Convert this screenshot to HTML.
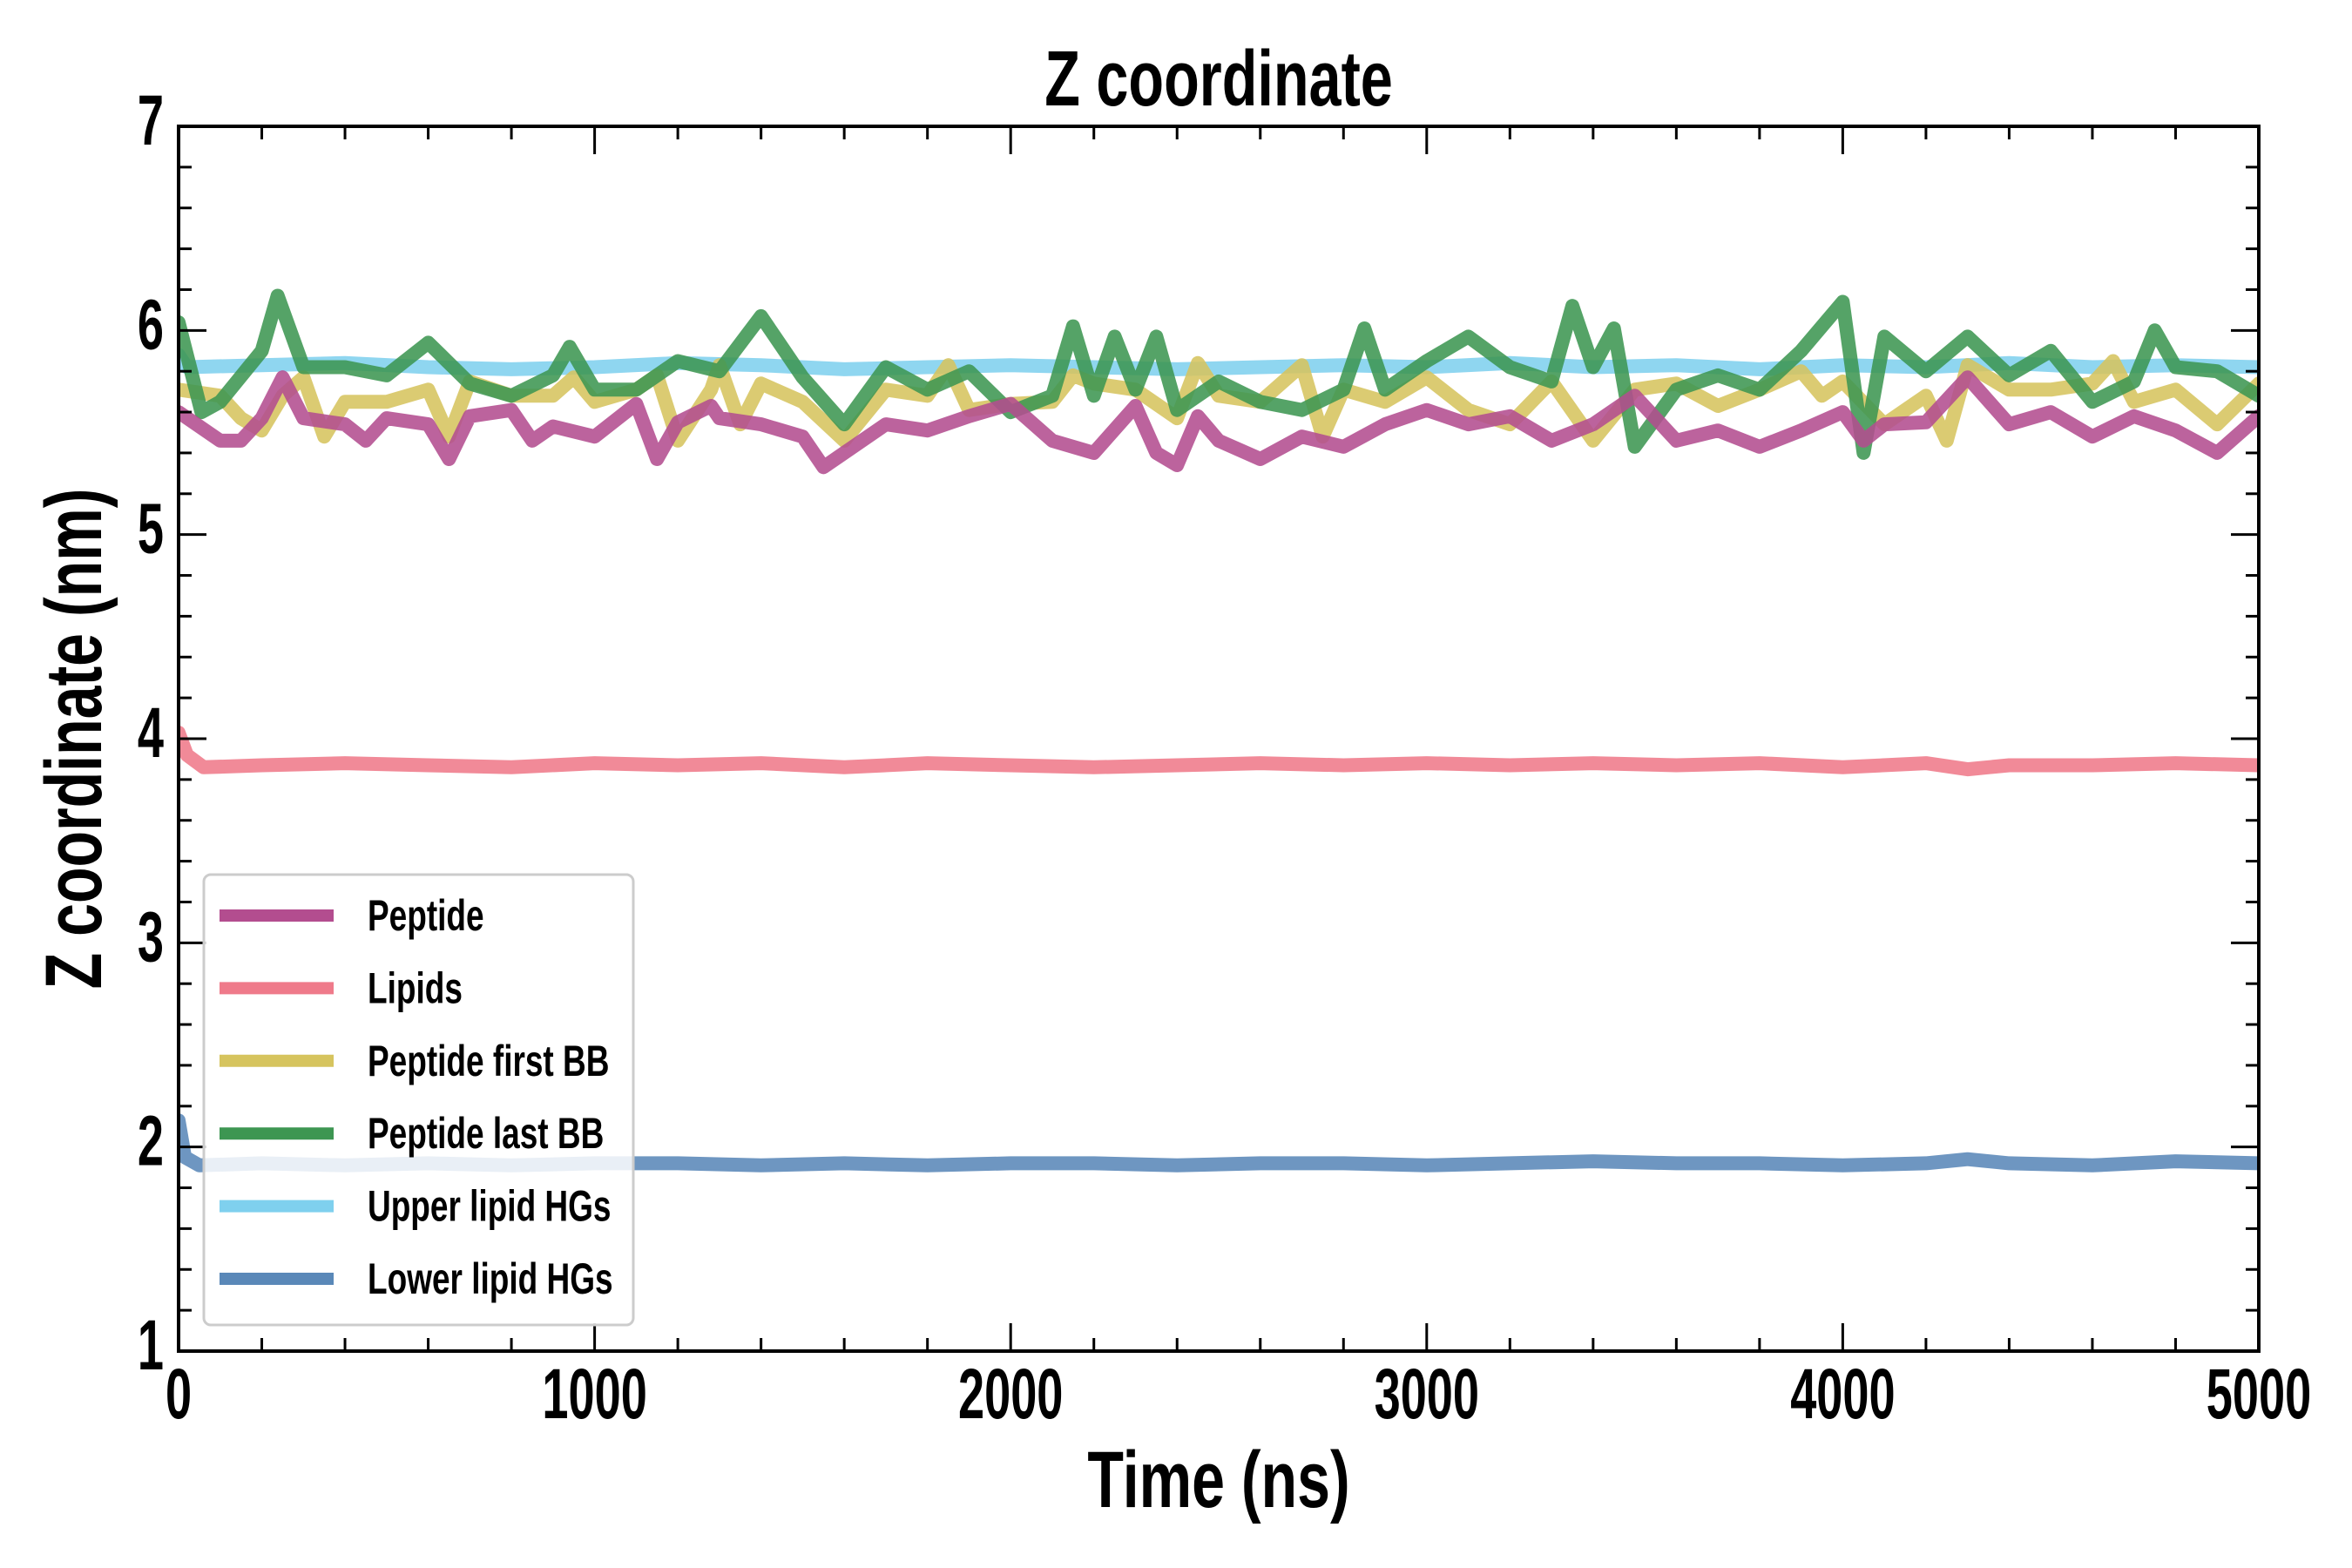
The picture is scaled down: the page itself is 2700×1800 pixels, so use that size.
<!DOCTYPE html>
<html><head><meta charset="utf-8"><style>
html,body{margin:0;padding:0;background:#fff;}
svg{display:block;}
text{font-family:"Liberation Sans Narrow","Liberation Sans",sans-serif;font-weight:bold;fill:#000;}
</style></head><body>
<svg id="chart" width="2700" height="1800" viewBox="0 0 2700 1800" xmlns="http://www.w3.org/2000/svg">
<rect width="2700" height="1800" fill="#fff"/>
<g id="series"></g>
<g id="axes"></g>
<g id="legend"></g>
</svg>
<script>
const xTicks = [0,1000,2000,3000,4000,5000];
const yTicks = [1,2,3,4,5,6,7];
const seriesNames = ["Peptide","Lipids","Peptide first BB","Peptide last BB","Upper lipid HGs","Lower lipid HGs"];
const seriesColors = ["#b34d8f","#ef7a8a","#d6c45e","#3d9652","#7fd0ee","#5a88b8"];

const peptideT = [0,100,150,200,250,300,400,450,500,600,650,700,800,850,900,1000,1100,1150,1200,1280,1300,1400,1500,1550,1600,1700,1800,1900,2000,2100,2200,2300,2350,2400,2450,2500,2600,2700,2800,2900,3000,3100,3200,3300,3400,3500,3600,3700,3800,3900,4000,4050,4100,4200,4300,4400,4500,4600,4700,4800,4900,5000];
const peptideV = [5.60,5.46,5.46,5.57,5.77,5.57,5.54,5.46,5.57,5.54,5.37,5.58,5.61,5.46,5.53,5.48,5.64,5.37,5.55,5.63,5.57,5.54,5.48,5.33,5.40,5.54,5.51,5.58,5.64,5.46,5.40,5.63,5.40,5.34,5.58,5.46,5.37,5.48,5.43,5.54,5.61,5.54,5.58,5.46,5.54,5.68,5.46,5.51,5.43,5.51,5.60,5.46,5.54,5.55,5.77,5.54,5.60,5.48,5.58,5.51,5.40,5.58];

const firstBBT = [0,100,150,200,250,300,350,400,500,600,650,700,800,900,950,1000,1100,1150,1200,1280,1300,1350,1400,1500,1600,1700,1800,1850,1900,2000,2100,2150,2200,2300,2400,2450,2500,2600,2700,2750,2800,2900,3000,3100,3200,3300,3400,3500,3600,3700,3800,3900,3950,4000,4100,4200,4250,4300,4400,4500,4600,4650,4700,4800,4900,5000];
const firstBBV = [5.71,5.68,5.57,5.51,5.68,5.77,5.48,5.65,5.65,5.71,5.48,5.75,5.68,5.68,5.77,5.65,5.71,5.78,5.46,5.71,5.83,5.54,5.74,5.65,5.46,5.71,5.68,5.83,5.61,5.64,5.65,5.78,5.74,5.71,5.57,5.84,5.68,5.65,5.83,5.48,5.71,5.65,5.77,5.61,5.54,5.75,5.46,5.71,5.74,5.63,5.71,5.80,5.68,5.75,5.54,5.68,5.46,5.83,5.71,5.71,5.74,5.85,5.65,5.71,5.54,5.74];

const lastBBT = [0,55,100,200,238,300,400,500,600,700,800,900,940,1000,1100,1200,1300,1400,1500,1600,1700,1800,1900,2000,2100,2150,2200,2250,2300,2350,2400,2500,2600,2700,2800,2850,2900,3000,3100,3200,3300,3350,3400,3450,3500,3600,3700,3800,3900,4000,4050,4100,4200,4300,4400,4500,4600,4700,4750,4800,4900,5000];
const lastBBV = [6.04,5.60,5.65,5.90,6.17,5.82,5.82,5.78,5.94,5.74,5.68,5.78,5.92,5.71,5.71,5.85,5.80,6.07,5.77,5.54,5.82,5.71,5.80,5.60,5.68,6.02,5.68,5.97,5.71,5.97,5.61,5.75,5.65,5.61,5.71,6.01,5.71,5.85,5.97,5.82,5.75,6.12,5.82,6.01,5.43,5.71,5.78,5.71,5.90,6.14,5.40,5.97,5.80,5.97,5.78,5.90,5.65,5.75,6.00,5.82,5.80,5.68];

const upperT = [0,20,200,400,600,800,1000,1200,1400,1600,1800,2000,2200,2400,2600,2800,3000,3200,3400,3600,3800,4000,4200,4400,4600,4800,5000];
const upperV = [5.88,5.82,5.83,5.84,5.82,5.81,5.82,5.84,5.83,5.81,5.82,5.83,5.82,5.81,5.82,5.83,5.82,5.84,5.82,5.83,5.81,5.83,5.82,5.84,5.82,5.83,5.82];

const lipidsT = [0,20,60,200,400,600,800,1000,1200,1400,1600,1800,2000,2200,2400,2600,2800,3000,3200,3400,3600,3800,4000,4200,4300,4400,4600,4800,5000];
const lipidsV = [4.03,3.92,3.86,3.87,3.88,3.87,3.86,3.88,3.87,3.88,3.86,3.88,3.87,3.86,3.87,3.88,3.87,3.88,3.87,3.88,3.87,3.88,3.86,3.88,3.85,3.87,3.87,3.88,3.87];

const lowerT = [0,15,50,200,400,600,800,1000,1200,1400,1600,1800,2000,2200,2400,2600,2800,3000,3200,3400,3600,3800,4000,4200,4300,4400,4600,4800,5000];
const lowerV = [2.13,1.95,1.91,1.92,1.91,1.92,1.91,1.92,1.92,1.91,1.92,1.91,1.92,1.92,1.91,1.92,1.92,1.91,1.92,1.93,1.92,1.92,1.91,1.92,1.94,1.92,1.91,1.93,1.92];

const L=205,R=2593,T=145,B=1551;
const xMin=0,xMax=5000,yMin=1,yMax=7;
function sx(v){return L+(v-xMin)/(xMax-xMin)*(R-L);}
function sy(v){return B-(v-yMin)/(yMax-yMin)*(B-T);}
const NS="http://www.w3.org/2000/svg";
function mk(tag,parent){const e=document.createElementNS(NS,tag);parent.appendChild(e);return e;}

const seriesT=[peptideT,lipidsT,firstBBT,lastBBT,upperT,lowerT];
const seriesV=[peptideV,lipidsV,firstBBV,lastBBV,upperV,lowerV];
const sg=document.getElementById('series');
const clip=mk('clipPath',sg);clip.setAttribute('id','pc');
const cr=mk('rect',clip);cr.setAttribute('x',L);cr.setAttribute('y',T);cr.setAttribute('width',R-L);cr.setAttribute('height',B-T);
const slugs=["peptide","lipids","peptide-first-bb","peptide-last-bb","upper-lipid-hgs","lower-lipid-hgs"];
[1,5,4,2,3,0].forEach(i=>{
  const p=mk('path',sg);
  let d='';
  seriesT[i].forEach((t,k)=>{d+=(k?'L':'M')+sx(t).toFixed(1)+' '+sy(seriesV[i][k]).toFixed(1);});
  p.setAttribute('d',d);
  p.setAttribute('fill','none');
  p.setAttribute('stroke',seriesColors[i]);
  p.setAttribute('stroke-width','16');
  p.setAttribute('stroke-linejoin','round');
  p.setAttribute('stroke-linecap','round');
  p.setAttribute('opacity','0.88');
  p.setAttribute('clip-path','url(#pc)');
  
  
});

const ag=document.getElementById('axes');
function line(x1,y1,x2,y2,w,g){const l=mk('line',g);l.setAttribute('x1',x1);l.setAttribute('y1',y1);l.setAttribute('x2',x2);l.setAttribute('y2',y2);l.setAttribute('stroke','#000');l.setAttribute('stroke-width',w);return l;}
function txt(s,x,y,size,anchor,parent,rot,sc){const t=mk('text',parent);t.textContent=s;t.setAttribute('font-size',size);t.setAttribute('text-anchor',anchor);
  t.setAttribute('transform','translate('+x+','+y+')'+(rot?' rotate('+rot+')':'')+' scale('+sc+',1)');return t;}
for(let v=0;v<=5000;v+=200){const major=v%1000===0;const len=major?32:15;
  const a=line(sx(v),B,sx(v),B-len,3,ag);
  const b=line(sx(v),T,sx(v),T+len,3,ag);}
for(let k=0;k<=30;k++){const v=1+k*0.2;const major=k%5===0;const len=major?32:15;
  const a=line(L,sy(v),L+len,sy(v),3,ag);
  const b=line(R,sy(v),R-len,sy(v),3,ag);}
const fr=mk('rect',ag);fr.setAttribute('x',L);fr.setAttribute('y',T);fr.setAttribute('width',R-L);fr.setAttribute('height',B-T);fr.setAttribute('fill','none');fr.setAttribute('stroke','#000');fr.setAttribute('stroke-width','4');


xTicks.forEach(v=>{const t=txt(String(v),sx(v),B+77,82,'middle',ag,0,0.66);
  
  });
yTicks.forEach(v=>{const t=txt(String(v),188,sy(v)+21,82,'end',ag,0,0.66);
  
  });
const title=txt('Z coordinate',1399,121,90,'middle',ag,0,0.74);


const xl=txt('Time (ns)',1399,1730,92,'middle',ag,0,0.74);


const yl=txt('Z coordinate (nm)',116,848,92,'middle',ag,-90,0.74);



const lg=document.getElementById('legend');
const box=mk('rect',lg);box.setAttribute('x',234);box.setAttribute('y',1004);box.setAttribute('width',493);box.setAttribute('height',517);box.setAttribute('rx',8);box.setAttribute('fill','#fff');box.setAttribute('fill-opacity','0.85');box.setAttribute('stroke','#cccccc');box.setAttribute('stroke-width','3');


seriesNames.forEach((n,i)=>{const y=1051+i*83.4;
  const l=line(252,y,383,y,14,lg);l.setAttribute('stroke',seriesColors[i]);
  
  
  const t=txt(n,422,y+17,50,'start',lg,0,0.74);
  
  });
</script>
</body></html>
